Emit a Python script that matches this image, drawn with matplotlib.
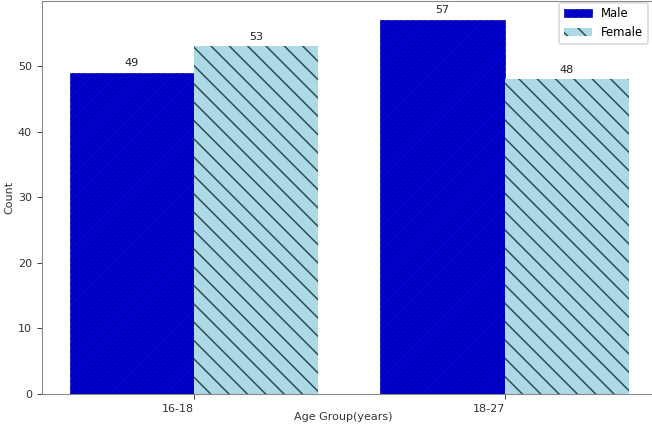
import numpy as np
import matplotlib
matplotlib.use('Agg')
import matplotlib.pyplot as plt

# counts per age group
age_groups = ['16-18', '18-27']
male_counts = [49, 57]
female_counts = [53, 48]

fs = 7.3
dpi = 110
fig = plt.figure(figsize=(652 / dpi, 432 / dpi), dpi=dpi)
ax = fig.add_axes([0.0641, 0.088, 0.9578, 0.9088])

x = np.arange(len(age_groups))
width = 0.4

# Male bars on the left, Female on the right of each group
male_bars = ax.bar(x - width / 2, male_counts, width, label='Male',
                   color='#0000d8', edgecolor='#0000a8', linewidth=0.4, hatch='//////')
female_bars = ax.bar(x + width / 2, female_counts, width, label='Female',
                     color='lightblue', edgecolor='#2f4f4f', linewidth=0, hatch='\\\\')

ax.bar_label(male_bars, padding=3, fontsize=fs, color='#222222')
ax.bar_label(female_bars, padding=3, fontsize=fs, color='#222222')

ax.set_xlim(-0.49, 1.52)
ax.set_xticks(x)
ax.set_xticklabels(age_groups, ha='right')
ax.set_yticks(np.arange(0, 60, 10))
ax.tick_params(labelsize=fs, colors='#333333', width=0.6, length=3)
for sp in ax.spines.values():
    sp.set_linewidth(0.7)
    sp.set_color('#888888')

ax.set_xlabel('Age Group(years)', fontsize=fs, color='#333333')
ax.xaxis.set_label_coords(0.482, -0.045)
ax.set_ylabel('Count', fontsize=fs, color='#333333', labelpad=2)

ax.legend(fontsize=7.6, loc='upper right', bbox_to_anchor=(648 / 652, 1 - 2.5 / 432),
          bbox_transform=fig.transFigure, borderaxespad=0, framealpha=0.8,
          handlelength=2.4)

fig.savefig('out.png', dpi=dpi)
